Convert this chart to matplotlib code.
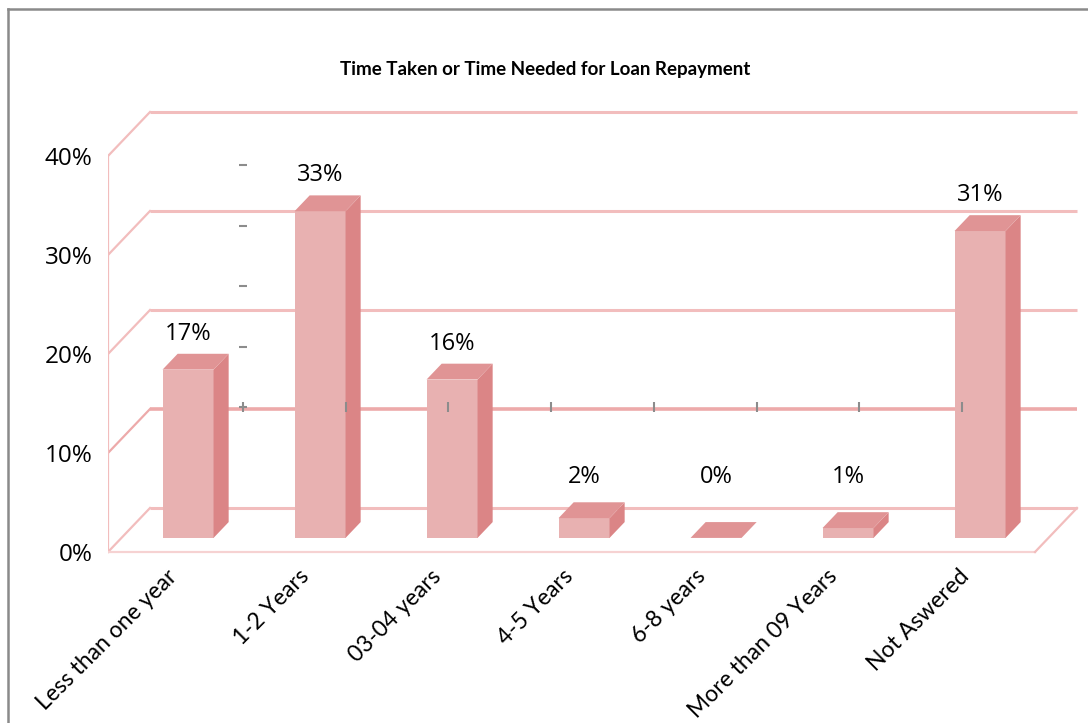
import matplotlib
matplotlib.use("Agg")
import matplotlib.pyplot as plt
from matplotlib.patches import Polygon
from matplotlib.lines import Line2D
from matplotlib.transforms import ScaledTranslation
import numpy as np

# ---- data ----
categories = ["Less than one year", "1-2 Years", "03-04 years", "4-5 Years",
              "6-8 years", "More than 09 Years", "Not Aswered"]
values = [17, 33, 16, 2, 0, 1, 31]
ytick_values = [0, 10, 20, 30, 40]
title = "Time Taken or Time Needed for Loan Repayment"

# ---- style ----
W, H = 1088, 723
FRONT = "#E8B1B1"
SIDE = "#DB8586"
TOP = "#E09495"
GRID = "#F2BDBD"
GRID_STRONG = "#EDAAAA"

PX_CAT = 132.0      # pixels per category
PX_PCT = 9.9        # pixels per percent
DX = 42 / PX_CAT    # depth vector in data units
DY = 44 / PX_PCT
ZF, ZB = 0.32, 0.68  # bar front / back depth fractions
BAR_W = 51 / PX_CAT

fig = plt.figure(figsize=(W / 100, H / 100), dpi=100)
ax_left_px, ax_bottom_px = 108, 560
ax = fig.add_axes([ax_left_px / W, (H - ax_bottom_px) / H,
                   (W - ax_left_px) / W, ax_bottom_px / H])
x0_px = 174.6
y0_px = 552
ax.set_xlim((ax_left_px - x0_px) / PX_CAT, (W - x0_px) / PX_CAT)
ax.set_ylim((y0_px - ax_bottom_px) / PX_PCT, y0_px / PX_PCT)
for s in ax.spines.values():
    s.set_visible(False)

xL = ax.get_xlim()[0]
xR = xL + (1035 - ax_left_px) / PX_CAT
ymax = ytick_values[-1]

# walls and gridlines
for v in ytick_values:
    strong = (v == 10)
    col = GRID_STRONG if strong else GRID
    lw = 2.6 if strong else 2.2
    ax.plot([xL + DX, xR + DX], [v + DY, v + DY], color=col, lw=lw,
            solid_capstyle="butt", zorder=1)
    ax.plot([xL, xL + DX], [v, v + DY], color=col, lw=1.6, zorder=1)
ax.plot([xL, xL], [0, ymax], color=GRID, lw=1.6, zorder=1)
ax.plot([xL, xR], [0, 0], color="#F6D2D2", lw=1.6, zorder=1)
ax.plot([xR, xR + DX], [0, DY], color=GRID, lw=1.6, zorder=1)

# bars (pseudo 3D)
xs = np.arange(len(values))
cx = xs + ZF * DX
ax.bar(cx, values, width=BAR_W, bottom=ZF * DY, color=FRONT,
       edgecolor="none", zorder=3)
dz = ZB - ZF
for c, v in zip(cx, values):
    xl, xr = c - BAR_W / 2, c + BAR_W / 2
    yb, yt = ZF * DY, v + ZF * DY
    side = Polygon([(xr, yb), (xr + dz * DX, yb + dz * DY),
                    (xr + dz * DX, yt + dz * DY), (xr, yt)],
                   closed=True, facecolor=SIDE, edgecolor="none", zorder=3)
    top = Polygon([(xl, yt), (xr, yt), (xr + dz * DX, yt + dz * DY),
                   (xl + dz * DX, yt + dz * DY)],
                  closed=True, facecolor=TOP, edgecolor="none", zorder=3)
    ax.add_patch(side)
    ax.add_patch(top)
    ax.text(c, max(v, 2.5) + ZB * DY + 0.8, f"{v}%", ha="center",
            va="bottom", fontsize=17, family="Open Sans", color="black",
            zorder=5)

# axis ticks
ax.set_yticks(ytick_values)
ax.set_yticklabels([f"{v}%" for v in ytick_values], family="Open Sans",
                   fontsize=17.5)
ax.tick_params(axis="y", length=0, pad=11)
ax.set_xticks(xs)
ax.set_xticklabels(categories, rotation=45, ha="right", va="top",
                   rotation_mode="anchor", family="Lato", fontsize=16.5)
ax.tick_params(axis="x", length=0, pad=4)
shift = ScaledTranslation(-8 / 100, 0, fig.dpi_scale_trans)
for lbl in ax.get_xticklabels():
    lbl.set_transform(lbl.get_transform() + shift)

fig.text(545 / W, 1 - 70 / H, title, ha="center", va="center",
         family="Lato", fontweight="bold", fontsize=13.5)

# stray secondary-axis tick marks (as in the original Excel chart)
ax2 = fig.add_axes([243 / W, (H - 407) / H, (W - 243) / W, (407 - 105) / H])
ax2.patch.set_visible(False)
for s in ax2.spines.values():
    s.set_visible(False)
ax2.set_xlim(0, (W - 243) / 102.7)
ax2.set_ylim(0, (407 - 105) / 60.5)
ax2.set_xticks(np.arange(8))
ax2.set_yticks(np.arange(5))
ax2.set_xticklabels([])
ax2.set_yticklabels([])
ax2.tick_params(axis="x", direction="inout", length=7, width=1.5,
                color="#8c8c8c")
ax2.tick_params(axis="y", direction="inout", length=6, width=1.5,
                color="#8c8c8c")
ax2.set_zorder(2)

# outer frame
fig.add_artist(Line2D([7.5 / W, 7.5 / W], [0, 1 - 8.5 / H],
                      color="#8a8a8a", lw=1.8, transform=fig.transFigure))
fig.add_artist(Line2D([7.5 / W, 1], [1 - 8.5 / H, 1 - 8.5 / H],
                      color="#8a8a8a", lw=1.8, transform=fig.transFigure))

fig.savefig("out.png", dpi=100)
